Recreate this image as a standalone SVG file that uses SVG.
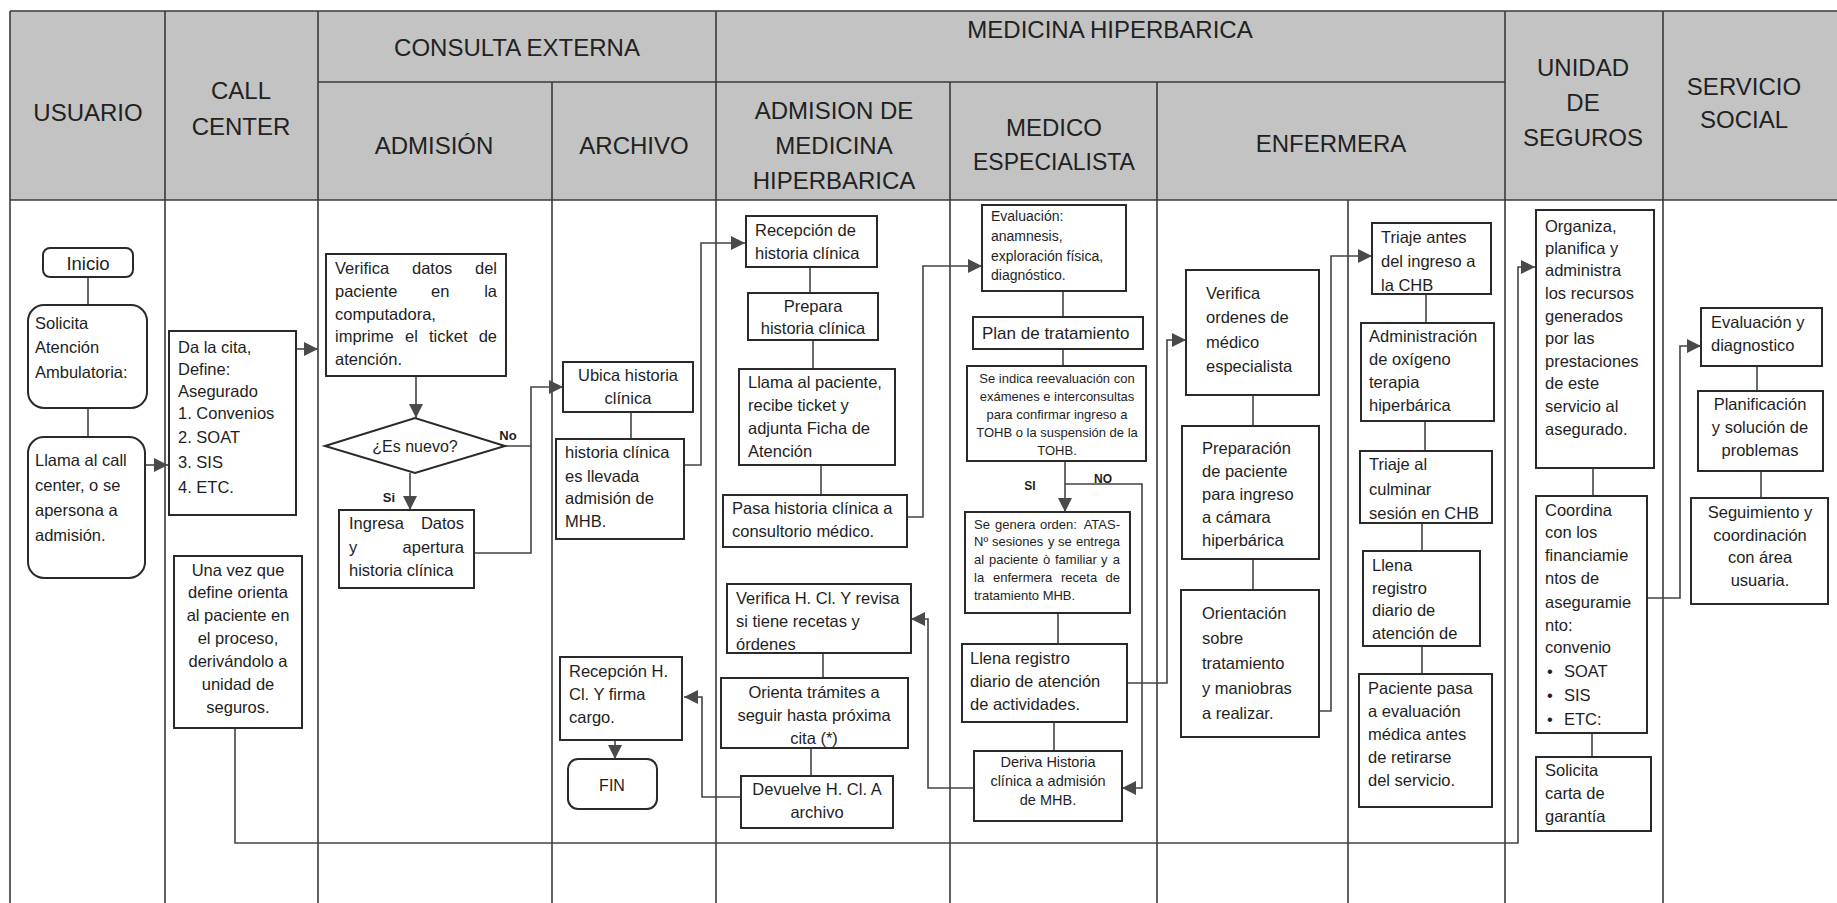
<svg xmlns="http://www.w3.org/2000/svg" width="1837" height="903" viewBox="0 0 1837 903">
<style>
.lane{stroke:#3a3a3a;stroke-width:1.6;fill:none}
.box{fill:#fff;stroke:#2a2a2a;stroke-width:2}
.c{fill:none;stroke:#444;stroke-width:1.6}
.t{font-family:"Liberation Sans",Arial,sans-serif;font-size:16.5px;fill:#1e1e1e;dominant-baseline:central}
.h{font-family:"Liberation Sans",Arial,sans-serif;font-size:24px;fill:#222;text-anchor:middle;dominant-baseline:central}
.m{text-anchor:middle}
.e{text-anchor:end}
.s13{font-size:13px}
.s14{font-size:14px}
.lbl{font-size:13px;font-weight:bold}
</style>
<defs>
<marker id="ah" viewBox="0 0 10 10" refX="10" refY="5" markerWidth="14" markerHeight="14" markerUnits="userSpaceOnUse" orient="auto"><path d="M0,0 L10,5 L0,10 z" fill="#4a4a4a"/></marker>
</defs>
<rect width="1837" height="903" fill="#fff"/>
<g id="lanes">
<rect x="10" y="11" width="1827" height="189" fill="#c3c3c3"/>
<line class="lane" x1="10" y1="11" x2="1837" y2="11"/>
<line class="lane" x1="10" y1="200" x2="1837" y2="200"/>
<line class="lane" x1="318" y1="82" x2="1505" y2="82"/>
<line class="lane" x1="10" y1="11" x2="10" y2="903"/>
<line class="lane" x1="165" y1="11" x2="165" y2="903"/>
<line class="lane" x1="318" y1="11" x2="318" y2="903"/>
<line class="lane" x1="552" y1="82" x2="552" y2="903"/>
<line class="lane" x1="716" y1="11" x2="716" y2="903"/>
<line class="lane" x1="950" y1="82" x2="950" y2="903"/>
<line class="lane" x1="1157" y1="82" x2="1157" y2="903"/>
<line class="lane" x1="1348" y1="200" x2="1348" y2="903"/>
<line class="lane" x1="1505" y1="11" x2="1505" y2="903"/>
<line class="lane" x1="1663" y1="11" x2="1663" y2="903"/>
<text class="h" x="88" y="112">USUARIO</text>
<text class="h" x="241" y="90">CALL</text>
<text class="h" x="241" y="126">CENTER</text>
<text class="h" x="517" y="47">CONSULTA EXTERNA</text>
<text class="h" x="434" y="145">ADMISIÓN</text>
<text class="h" x="634" y="145">ARCHIVO</text>
<text class="h" x="1110" y="29">MEDICINA HIPERBARICA</text>
<text class="h" x="834" y="110">ADMISION DE</text>
<text class="h" x="834" y="145">MEDICINA</text>
<text class="h" x="834" y="180">HIPERBARICA</text>
<text class="h" x="1054" y="127">MEDICO</text>
<text class="h" x="1054" y="162" style="font-size:23px">ESPECIALISTA</text>
<text class="h" x="1331" y="143">ENFERMERA</text>
<text class="h" x="1583" y="67">UNIDAD</text>
<text class="h" x="1583" y="102">DE</text>
<text class="h" x="1583" y="137">SEGUROS</text>
<text class="h" x="1744" y="86">SERVICIO</text>
<text class="h" x="1744" y="119">SOCIAL</text>
</g>
<g id="connectors">
<polyline class="c" points="88,277 88,305"/>
<polyline class="c" points="88,408 88,437"/>
<polyline class="c" points="145,465 168,465" marker-end="url(#ah)"/>
<polyline class="c" points="296,349 318,349" marker-end="url(#ah)"/>
<polyline class="c" points="235,728 235,843 1518,843 1518,267 1535,267" marker-end="url(#ah)"/>
<polyline class="c" points="416,376 416,418" marker-end="url(#ah)"/>
<polyline class="c" points="505,446 531,446 531,387 563,387" marker-end="url(#ah)"/>
<polyline class="c" points="474,553 531,553 531,446"/>
<polyline class="c" points="410,473 410,510" marker-end="url(#ah)"/>
<polyline class="c" points="631,412 631,439"/>
<polyline class="c" points="684,465 701,465 701,243 745,243" marker-end="url(#ah)"/>
<polyline class="c" points="615,740 615,759" marker-end="url(#ah)"/>
<polyline class="c" points="741,797 702,797 702,697 684,697" marker-end="url(#ah)"/>
<polyline class="c" points="810,267 810,293"/>
<polyline class="c" points="813,340 813,369"/>
<polyline class="c" points="821,465 821,495"/>
<polyline class="c" points="907,517 923,517 923,266 982,266" marker-end="url(#ah)"/>
<polyline class="c" points="823,653 823,678"/>
<polyline class="c" points="811,748 811,776"/>
<polyline class="c" points="974,788 928,788 928,619 911,619" marker-end="url(#ah)"/>
<polyline class="c" points="1063,291 1063,317"/>
<polyline class="c" points="1063,349 1063,366"/>
<polyline class="c" points="1065,461 1065,512" marker-end="url(#ah)"/>
<polyline class="c" points="1065,484 1142,484 1142,788 1122,788" marker-end="url(#ah)"/>
<polyline class="c" points="1058,613 1058,644"/>
<polyline class="c" points="1054,722 1054,751"/>
<polyline class="c" points="1127,683 1167,683 1167,340 1186,340" marker-end="url(#ah)"/>
<polyline class="c" points="1253,395 1253,426"/>
<polyline class="c" points="1253,559 1253,590"/>
<polyline class="c" points="1319,711 1331,711 1331,256 1372,256" marker-end="url(#ah)"/>
<polyline class="c" points="1426,294 1426,323"/>
<polyline class="c" points="1425,421 1425,451"/>
<polyline class="c" points="1422,523 1422,551"/>
<polyline class="c" points="1422,646 1422,674"/>
<polyline class="c" points="1593,468 1593,496"/>
<polyline class="c" points="1592,733 1592,757"/>
<polyline class="c" points="1647,598 1680,598 1680,346 1701,346" marker-end="url(#ah)"/>
<polyline class="c" points="1757,366 1757,391"/>
<polyline class="c" points="1761,471 1761,498"/>
<text class="t lbl" x="508" y="435" text-anchor="middle">No</text>
<text class="t lbl" x="389" y="497" text-anchor="middle">Si</text>
<text class="t lbl" x="1030" y="486" text-anchor="middle" style="font-size:12px">SI</text>
<text class="t lbl" x="1103" y="479" text-anchor="middle" style="font-size:12px">NO</text>
</g>
<g id="inicio"><rect class="box" x="43" y="248" width="90" height="29" rx="7"/><text class="t m" x="88" y="263" style="font-size:18.5px">Inicio</text></g>
<g id="solicita"><rect class="box" x="28" y="305" width="119" height="103" rx="16"/>
<text class="t" x="35" y="323">Solicita</text><text class="t" x="35" y="347">Atención</text><text class="t" x="35" y="372">Ambulatoria:</text></g>
<g id="llama"><rect class="box" x="28" y="437" width="117" height="141" rx="16"/>
<text class="t" x="35" y="460">Llama al call</text><text class="t" x="35" y="485">center, o se</text><text class="t" x="35" y="510">apersona a</text><text class="t" x="35" y="535">admisión.</text></g>
<g id="dacita"><rect class="box" x="169" y="331" width="127" height="184"/>
<text class="t" x="178" y="347">Da la cita,</text><text class="t" x="178" y="369">Define:</text><text class="t" x="178" y="391">Asegurado</text><text class="t" x="178" y="413">1. Convenios</text><text class="t" x="178" y="437">2. SOAT</text><text class="t" x="178" y="462">3. SIS</text><text class="t" x="178" y="487">4. ETC.</text></g>
<g id="unavez"><rect class="box" x="174" y="556" width="128" height="172"/>
<text class="t m" x="238" y="570">Una vez que</text><text class="t m" x="238" y="592">define orienta</text><text class="t m" x="238" y="615">al paciente en</text><text class="t m" x="238" y="638">el proceso,</text><text class="t m" x="238" y="661">derivándolo a</text><text class="t m" x="238" y="684">unidad de</text><text class="t m" x="238" y="707">seguros.</text></g>
<g id="verifica"><rect class="box" x="326" y="254" width="180" height="122"/>
<text class="t" x="335" y="268">Verifica</text><text class="t" x="412" y="268">datos</text><text class="t e" x="497" y="268">del</text>
<text class="t" x="335" y="291">paciente</text><text class="t" x="431" y="291">en</text><text class="t e" x="497" y="291">la</text>
<text class="t" x="335" y="314">computadora,</text>
<text class="t" x="335" y="336">imprime</text><text class="t" x="405" y="336">el</text><text class="t" x="429" y="336">ticket</text><text class="t e" x="497" y="336">de</text>
<text class="t" x="335" y="359">atención.</text></g>
<g id="esnuevo"><polygon class="box" points="325,446 415,418 505,446 415,473"/><text class="t m" x="415" y="446" style="font-size:16px">¿Es nuevo?</text></g>
<g id="ingresa"><rect class="box" x="339" y="510" width="135" height="78"/>
<text class="t" x="349" y="523">Ingresa</text><text class="t e" x="464" y="523">Datos</text>
<text class="t" x="349" y="547">y</text><text class="t e" x="464" y="547">apertura</text>
<text class="t" x="349" y="570">historia clínica</text></g>
<g id="ubica"><rect class="box" x="563" y="362" width="130" height="50"/>
<text class="t m" x="628" y="375">Ubica historia</text><text class="t m" x="628" y="398">clínica</text></g>
<g id="llevada"><rect class="box" x="556" y="439" width="128" height="100"/>
<text class="t" x="565" y="452">historia clínica</text><text class="t" x="565" y="476">es llevada</text><text class="t" x="565" y="498">admisión de</text><text class="t" x="565" y="521">MHB.</text></g>
<g id="recepcionhcl"><rect class="box" x="560" y="657" width="122" height="83"/>
<text class="t" x="569" y="671">Recepción H.</text><text class="t" x="569" y="694">Cl. Y firma</text><text class="t" x="569" y="717">cargo.</text></g>
<g id="fin"><rect class="box" x="568" y="759" width="89" height="50" rx="10"/><text class="t m" x="612" y="785" style="font-size:16px">FIN</text></g>
<g id="recepcion"><rect class="box" x="746" y="216" width="131" height="51"/>
<text class="t" x="755" y="230">Recepción de</text><text class="t" x="755" y="253">historia clínica</text></g>
<g id="prepara"><rect class="box" x="748" y="293" width="130" height="47"/>
<text class="t m" x="813" y="306">Prepara</text><text class="t m" x="813" y="328">historia clínica</text></g>
<g id="llamapac"><rect class="box" x="739" y="369" width="156" height="96"/>
<text class="t" x="748" y="382">Llama al paciente,</text><text class="t" x="748" y="405">recibe ticket y</text><text class="t" x="748" y="428">adjunta Ficha de</text><text class="t" x="748" y="451">Atención</text></g>
<g id="pasa"><rect class="box" x="723" y="495" width="184" height="52"/>
<text class="t" x="732" y="508">Pasa historia clínica a</text><text class="t" x="732" y="531">consultorio médico.</text></g>
<g id="verificahcl"><rect class="box" x="727" y="584" width="184" height="69"/>
<text class="t" x="736" y="598">Verifica H. Cl. Y revisa</text><text class="t" x="736" y="621">si tiene recetas y</text><text class="t" x="736" y="644">órdenes</text></g>
<g id="orienta"><rect class="box" x="721" y="678" width="187" height="70"/>
<text class="t m" x="814" y="692">Orienta trámites a</text><text class="t m" x="814" y="715">seguir hasta próxima</text><text class="t m" x="814" y="738">cita (*)</text></g>
<g id="devuelve"><rect class="box" x="741" y="776" width="152" height="52"/>
<text class="t m" x="817" y="789">Devuelve H. Cl. A</text><text class="t m" x="817" y="812">archivo</text></g>
<g id="evaluacion"><rect class="box" x="982" y="205" width="144" height="86"/>
<text class="t s14" x="991" y="216">Evaluación:</text><text class="t s14" x="991" y="236">anamnesis,</text><text class="t s14" x="991" y="256">exploración física,</text><text class="t s14" x="991" y="275">diagnóstico.</text></g>
<g id="plan"><rect class="box" x="973" y="317" width="170" height="32"/><text class="t" x="982" y="333" style="font-size:17px">Plan de tratamiento</text></g>
<g id="seindica"><rect class="box" x="967" y="366" width="179" height="95"/>
<text class="t m s13" x="1057" y="378">Se indica reevaluación con</text><text class="t m s13" x="1057" y="396">exámenes e interconsultas</text><text class="t m s13" x="1057" y="414">para confirmar ingreso a</text><text class="t m s13" x="1057" y="432">TOHB o la suspensión de la</text><text class="t m s13" x="1057" y="450">TOHB.</text></g>
<g id="segenera"><rect class="box" x="965" y="512" width="165" height="101"/>
<text class="t s13" x="974" y="524">Se</text><text class="t s13" x="995" y="524">genera</text><text class="t s13" x="1040" y="524">orden:</text><text class="t s13 e" x="1120" y="524">ATAS-</text>
<text class="t s13" x="974" y="541">Nº</text><text class="t s13" x="992" y="541">sesiones</text><text class="t s13" x="1048" y="541">y</text><text class="t s13" x="1058" y="541">se</text><text class="t s13 e" x="1120" y="541">entrega</text>
<text class="t s13" x="974" y="559">al</text><text class="t s13" x="989" y="559">paciente</text><text class="t s13" x="1043" y="559">ò</text><text class="t s13" x="1055" y="559">familiar</text><text class="t s13" x="1101" y="559">y</text><text class="t s13 e" x="1120" y="559">a</text>
<text class="t s13" x="974" y="577">la</text><text class="t s13" x="993" y="577">enfermera</text><text class="t s13" x="1061" y="577">receta</text><text class="t s13 e" x="1120" y="577">de</text>
<text class="t s13" x="974" y="595">tratamiento MHB.</text></g>
<g id="llenareg"><rect class="box" x="962" y="644" width="165" height="78"/>
<text class="t" x="970" y="658">Llena registro</text><text class="t" x="970" y="681">diario de atención</text><text class="t" x="970" y="704">de actividades.</text></g>
<g id="deriva"><rect class="box" x="974" y="751" width="148" height="70"/>
<text class="t m" x="1048" y="762" style="font-size:14.5px">Deriva Historia</text><text class="t m" x="1048" y="781" style="font-size:14.5px">clínica a admisión</text><text class="t m" x="1048" y="800" style="font-size:14.5px">de MHB.</text></g>
<g id="verificaord"><rect class="box" x="1186" y="270" width="133" height="125"/>
<text class="t" x="1206" y="293">Verifica</text><text class="t" x="1206" y="317">ordenes de</text><text class="t" x="1206" y="342">médico</text><text class="t" x="1206" y="366">especialista</text></g>
<g id="preparacion"><rect class="box" x="1182" y="426" width="137" height="133"/>
<text class="t" x="1202" y="448">Preparación</text><text class="t" x="1202" y="471">de paciente</text><text class="t" x="1202" y="494">para ingreso</text><text class="t" x="1202" y="517">a cámara</text><text class="t" x="1202" y="540">hiperbárica</text></g>
<g id="orientacion"><rect class="box" x="1181" y="590" width="138" height="147"/>
<text class="t" x="1202" y="613">Orientación</text><text class="t" x="1202" y="638">sobre</text><text class="t" x="1202" y="663">tratamiento</text><text class="t" x="1202" y="688">y maniobras</text><text class="t" x="1202" y="713">a realizar.</text></g>
<g id="triajeantes"><rect class="box" x="1372" y="223" width="119" height="71"/>
<text class="t" x="1381" y="237">Triaje antes</text><text class="t" x="1381" y="261">del ingreso a</text><text class="t" x="1381" y="285">la CHB</text></g>
<g id="administracion"><rect class="box" x="1361" y="323" width="133" height="98"/>
<text class="t" x="1369" y="336">Administración</text><text class="t" x="1369" y="359">de oxígeno</text><text class="t" x="1369" y="382">terapia</text><text class="t" x="1369" y="405">hiperbárica</text></g>
<g id="triajeal"><rect class="box" x="1360" y="451" width="132" height="72"/>
<text class="t" x="1369" y="464">Triaje al</text><text class="t" x="1369" y="489">culminar</text><text class="t" x="1369" y="513">sesión en CHB</text></g>
<g id="llenaenf"><rect class="box" x="1363" y="551" width="117" height="95"/>
<text class="t" x="1372" y="565">Llena</text><text class="t" x="1372" y="588">registro</text><text class="t" x="1372" y="610">diario de</text><text class="t" x="1372" y="633">atención de</text></g>
<g id="pacientepasa"><rect class="box" x="1359" y="674" width="133" height="133"/>
<text class="t" x="1368" y="688">Paciente pasa</text><text class="t" x="1368" y="711">a evaluación</text><text class="t" x="1368" y="734">médica antes</text><text class="t" x="1368" y="757">de retirarse</text><text class="t" x="1368" y="780">del servicio.</text></g>
<g id="organiza"><rect class="box" x="1536" y="210" width="118" height="258"/>
<text class="t" x="1545" y="226">Organiza,</text><text class="t" x="1545" y="248">planifica y</text><text class="t" x="1545" y="270">administra</text><text class="t" x="1545" y="293">los recursos</text><text class="t" x="1545" y="316">generados</text><text class="t" x="1545" y="338">por las</text><text class="t" x="1545" y="361">prestaciones</text><text class="t" x="1545" y="383">de este</text><text class="t" x="1545" y="406">servicio al</text><text class="t" x="1545" y="429">asegurado.</text></g>
<g id="coordina"><rect class="box" x="1536" y="496" width="111" height="237"/>
<text class="t" x="1545" y="510">Coordina</text><text class="t" x="1545" y="532">con los</text><text class="t" x="1545" y="555">financiamie</text><text class="t" x="1545" y="578">ntos de</text><text class="t" x="1545" y="602">aseguramie</text><text class="t" x="1545" y="625">nto:</text><text class="t" x="1545" y="647">convenio</text>
<text class="t" x="1547" y="671">•</text><text class="t" x="1564" y="671">SOAT</text>
<text class="t" x="1547" y="695">•</text><text class="t" x="1564" y="695">SIS</text>
<text class="t" x="1547" y="719">•</text><text class="t" x="1564" y="719">ETC:</text></g>
<g id="solicitacarta"><rect class="box" x="1536" y="757" width="115" height="74"/>
<text class="t" x="1545" y="770">Solicita</text><text class="t" x="1545" y="793">carta de</text><text class="t" x="1545" y="816">garantía</text></g>
<g id="evaldiag"><rect class="box" x="1701" y="308" width="121" height="58"/>
<text class="t" x="1711" y="322">Evaluación y</text><text class="t" x="1711" y="345">diagnostico</text></g>
<g id="planificacion"><rect class="box" x="1698" y="391" width="125" height="80"/>
<text class="t m" x="1760" y="404">Planificación</text><text class="t m" x="1760" y="427">y solución de</text><text class="t m" x="1760" y="450">problemas</text></g>
<g id="seguimiento"><rect class="box" x="1691" y="498" width="137" height="106"/>
<text class="t m" x="1760" y="512">Seguimiento y</text><text class="t m" x="1760" y="535">coordinación</text><text class="t m" x="1760" y="557">con área</text><text class="t m" x="1760" y="580">usuaria.</text></g>
</svg>
